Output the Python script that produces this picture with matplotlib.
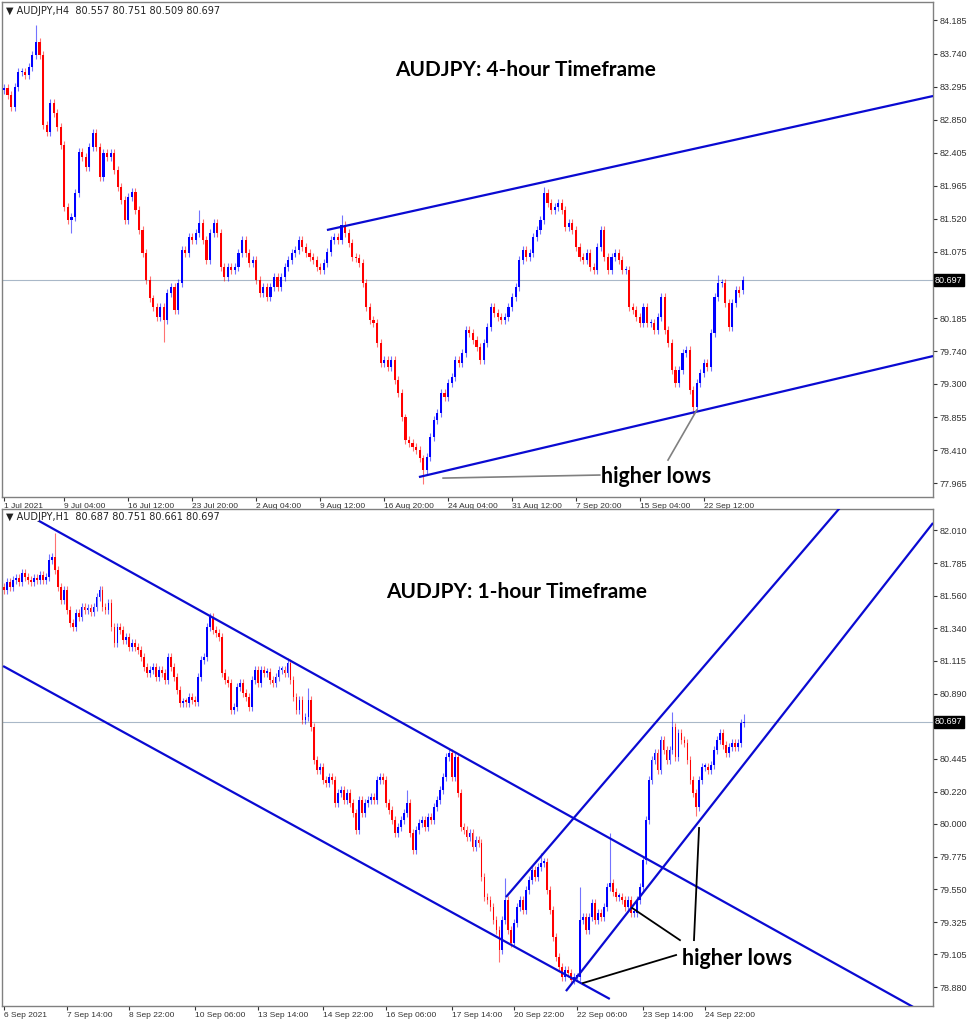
"""
AUDJPY 4H / 1H candlestick chart with trendlines (MT4 style)
"""
import matplotlib.pyplot as plt
import numpy as np

plt.rcParams['font.family'] = ['Liberation Sans', 'DejaVu Sans']

BULL = '#0000ff'
BEAR = '#ff0000'
LINE_BLUE = '#0a0ad2'
PRICE_LINE = '#a9b8c8'

# ---------------- H4 data (close of every bar) ----------------
h4_close = [
    83.277, 83.183, 83.022, 83.291, 83.492, 83.492, 83.452, 83.559, 83.721, 83.895,
    83.721, 82.780, 82.686, 83.076, 82.941, 82.753, 82.511, 81.678, 81.503, 81.543,
    81.866, 82.417, 82.350, 82.215, 82.484, 82.672, 82.484, 82.081, 82.404, 82.350,
    82.404, 82.175, 81.947, 81.772, 81.503, 81.812, 81.879, 81.637, 81.369, 81.059,
    80.697, 80.450, 80.334, 80.199, 80.334, 80.159, 80.522, 80.602, 80.293, 80.656,
    81.100, 81.059, 81.275, 81.234, 81.328, 81.463, 81.234, 80.965, 81.328, 81.463,
    81.328, 80.871, 80.737, 80.871, 80.831, 80.871, 81.059, 81.234, 81.059, 80.925,
    80.965, 80.697, 80.522, 80.602, 80.468, 80.602, 80.737, 80.602, 80.737, 80.871,
    80.965, 81.059, 81.100, 81.234, 81.140, 81.059, 81.006, 80.965, 80.871, 80.831,
    80.925, 81.073, 81.234, 81.275, 81.234, 81.436, 81.328, 81.194, 81.006, 80.992,
    80.925, 80.656, 80.334, 80.159, 80.119, 79.850, 79.581, 79.621, 79.527, 79.621,
    79.352, 79.178, 78.850, 78.546, 78.506, 78.452, 78.412, 78.300, 78.143, 78.318,
    78.586, 78.815, 78.909, 79.178, 79.124, 79.312, 79.393, 79.621, 79.581, 79.715,
    80.025, 79.984, 79.890, 79.796, 79.621, 79.850, 80.065, 80.334, 80.253, 80.199,
    80.159, 80.199, 80.334, 80.468, 80.602, 80.965, 81.100, 81.006, 81.059, 81.275,
    81.369, 81.503, 81.866, 81.732, 81.637, 81.678, 81.732, 81.637, 81.409, 81.463,
    81.369, 81.140, 81.006, 80.965, 81.059, 80.871, 80.831,
    81.140, 81.369, 81.006, 80.831, 81.006, 81.059, 80.965, 80.831, 80.831, 80.334,
    80.293, 80.199, 80.119, 80.334, 80.119, 80.119, 80.025, 80.199, 80.468, 80.025,
    79.850, 79.487, 79.312, 79.487, 79.715, 79.756, 79.218, 78.990, 79.312, 79.447,
    79.581, 79.527, 79.984, 80.468, 80.656, 80.656, 80.387, 80.065, 80.387, 80.562,
    80.522, 80.697,
]
h4_first_open = 83.25
h4_last_bar = (80.557, 80.751, 80.509, 80.697)   # O H L C from the header
h4_wick = 0.05                                   # typical wick length
h4_high_marks = {9: 84.12, 55: 81.64, 95: 81.57, 152: 81.95, 201: 80.76}
h4_low_marks = {19: 81.33, 45: 79.86, 118: 77.96, 194: 78.90}
h4_yticks = [77.965, 78.410, 78.855, 79.300, 79.740, 80.185, 80.630, 81.075,
             81.520, 81.965, 82.405, 82.850, 83.295, 83.740, 84.185]
h4_xtick_pos = [0, 17, 35, 53, 71, 89, 107, 125, 143, 161, 179, 197]
h4_xtick_labels = ['1 Jul 2021', '9 Jul 04:00', '16 Jul 12:00', '23 Jul 20:00',
                   '2 Aug 04:00', '9 Aug 12:00', '16 Aug 20:00', '24 Aug 04:00',
                   '31 Aug 12:00', '7 Sep 20:00', '15 Sep 04:00', '22 Sep 12:00']

# ---------------- H1 data ----------------
h1_close = [
    81.601, 81.656, 81.621, 81.669, 81.683, 81.656, 81.717, 81.690, 81.669, 81.656,
    81.683, 81.669, 81.704, 81.669, 81.690, 81.806, 81.827, 81.738, 81.621, 81.532,
    81.601, 81.464, 81.375, 81.347, 81.443, 81.416, 81.484, 81.464, 81.478, 81.450,
    81.484, 81.553, 81.601, 81.484, 81.464, 81.512, 81.347, 81.238, 81.347, 81.327,
    81.258, 81.279, 81.210, 81.238, 81.210, 81.190, 81.142, 81.074, 81.032, 81.053,
    81.074, 81.005, 81.053, 81.032, 80.984, 81.142, 81.074, 81.005, 80.916, 80.827,
    80.834, 80.827, 80.868, 80.847, 80.834, 81.005, 81.121, 81.142, 81.347, 81.416,
    81.327, 81.306, 81.279, 81.032, 80.984, 80.964, 80.779, 80.800, 80.937, 80.964,
    80.895, 80.868, 80.800,
    80.984, 81.053, 80.964, 81.053, 81.032, 81.039, 80.984, 80.964, 81.005, 81.053,
    81.053, 81.032, 81.101, 80.984, 80.868, 80.779, 80.847, 80.710, 80.731, 80.847,
    80.663, 80.437, 80.368, 80.389, 80.300, 80.279, 80.320, 80.300, 80.142, 80.210,
    80.231, 80.163, 80.210, 80.142, 80.074, 79.957, 80.163, 80.074, 80.142, 80.163,
    80.183, 80.163, 80.300, 80.320, 80.300, 80.142, 80.094, 80.026, 79.937, 79.978,
    80.026, 80.074, 80.142, 79.937, 79.820, 79.957, 80.005, 80.026, 79.978, 80.046,
    80.026, 80.115, 80.163, 80.231, 80.320, 80.457, 80.484, 80.320, 80.457, 80.210,
    79.978, 79.957, 79.909, 79.937, 79.841, 79.889, 79.868, 79.635,
    79.498, 79.478, 79.430, 79.341, 79.272, 79.135, 79.341, 79.478, 79.272, 79.183,
    79.320, 79.430, 79.478, 79.409, 79.546, 79.615, 79.683, 79.635, 79.704, 79.731,
    79.738, 79.546, 79.409, 79.224, 79.087, 79.019, 78.950, 78.998, 78.978, 78.930,
    78.950, 78.950, 79.341, 79.361, 79.272, 79.361, 79.457, 79.341, 79.389, 79.361,
    79.430, 79.567, 79.594, 79.532, 79.498, 79.498, 79.478, 79.430, 79.478, 79.389,
    79.389, 79.478, 79.567,
    79.752, 80.026, 80.300, 80.437, 80.484, 80.368, 80.574, 80.505, 80.437, 80.505,
    80.663, 80.457, 80.621, 80.574, 80.553, 80.437, 80.300, 80.210, 80.115, 80.300,
    80.389, 80.389, 80.368, 80.402, 80.505, 80.574, 80.621, 80.539, 80.484, 80.526,
    80.553, 80.526, 80.553, 80.690, 80.697,
]
h1_first_open = 81.62
h1_last_bar = (80.687, 80.751, 80.661, 80.697)
h1_wick = 0.03
h1_high_marks = {15: 81.85, 17: 81.99, 95: 81.135, 102: 80.93, 135: 80.23, 149: 80.51,
                 168: 79.63, 180: 79.80, 193: 79.57, 203: 79.94, 224: 80.765}
h1_low_marks = {166: 79.05, 190: 78.91, 232: 80.05}
h1_yticks = [78.880, 79.105, 79.325, 79.550, 79.775, 80.000, 80.220, 80.445,
             80.670, 80.890, 81.115, 81.340, 81.560, 81.785, 82.010]
h1_xtick_pos = [0, 21, 42, 64, 85, 107, 128, 150, 171, 192, 214, 235]
h1_xtick_labels = ['6 Sep 2021', '7 Sep 14:00', '8 Sep 22:00', '10 Sep 06:00',
                   '13 Sep 14:00', '14 Sep 22:00', '16 Sep 06:00', '17 Sep 14:00',
                   '20 Sep 22:00', '22 Sep 06:00', '23 Sep 14:00', '24 Sep 22:00']

last_price = 80.697

# trendlines (bar index, price)
h4_trend_lines = [((90.9, 81.369), (261.5, 83.170)),
                  ((116.8, 78.049), (261.5, 79.675))]
h4_leaders = [((123.6, 78.035), (167.7, 78.076)),
              ((195.0, 78.949), (186.9, 78.277))]
h1_trend_lines = [((11.7, 82.074), (311.0, 78.673)),
                  ((-0.3, 81.080), (203.0, 78.800)),
                  ((168.2, 79.498), (281.8, 82.204)),
                  ((188.3, 78.854), (311.3, 82.060))]
h1_leaders = [((194.0, 78.909), (225.2, 79.101)),
              ((210.5, 79.423), (226.5, 79.203)),
              ((232.9, 79.971), (231.2, 79.203))]


def draw_candles(ax, closes, first_open, last_bar, wick, high_marks, low_marks, width):
    c = np.array(closes, dtype=float)
    o = np.concatenate([[first_open], c[:-1]])
    o[-1] = last_bar[0]
    hi = np.maximum(o, c) + wick
    lo = np.minimum(o, c) - wick
    for i, v in high_marks.items():
        hi[i] = v
    for i, v in low_marks.items():
        lo[i] = v
    hi[-1], lo[-1] = last_bar[1], last_bar[2]
    x = np.arange(len(c))
    colors = np.where(c >= o, BULL, BEAR)
    body = c - o
    body = np.where(np.abs(body) < 0.012, 0.012, body)
    ax.vlines(x, lo, hi, colors=colors, linewidth=0.8, alpha=0.55, zorder=2)
    ax.bar(x, body, bottom=o, width=width, color=colors, linewidth=0, zorder=3)


def style_panel(ax, xlim, ylim, yticks, xpos, xlabels, header):
    ax.set_xlim(*xlim)
    ax.set_ylim(*ylim)
    for sp in ax.spines.values():
        sp.set_color('#808080')
        sp.set_linewidth(1)
    ax.yaxis.tick_right()
    ax.set_yticks(yticks)
    # the tick next to the current price sits under the price box
    ax.set_yticklabels(['' if abs(v - last_price) < 0.08 else f'{v:.3f}' for v in yticks])
    ax.tick_params(axis='y', labelsize=6.5, length=3, pad=2, colors='#333333')
    ax.set_xticks(xpos)
    ax.set_xticklabels(xlabels)
    ax.tick_params(axis='x', labelsize=6, length=3, pad=1.5, colors='#333333')
    for lab in ax.get_xticklabels():
        lab.set_ha('left')
    ax.axhline(last_price, color=PRICE_LINE, linewidth=0.8, zorder=1)
    ax.text(1.002, last_price, f'{last_price:.3f}', transform=ax.get_yaxis_transform(),
            color='white', fontsize=6.5, va='center', ha='left', zorder=10, clip_on=False,
            bbox=dict(boxstyle='square,pad=0.15', fc='black', ec='black'))
    ax.text(0.004, 0.993, header, transform=ax.transAxes, fontsize=7, va='top',
            ha='left', color='#222222', family=['DejaVu Sans'])


fig = plt.figure(figsize=(9.68, 10.24), dpi=100)
ax1 = fig.add_axes([0.00207, 0.5146, 0.9618, 0.4834])
ax2 = fig.add_axes([0.00207, 0.0176, 0.9618, 0.4854])

# --- 4-hour panel ---
draw_candles(ax1, h4_close, h4_first_open, h4_last_bar, h4_wick,
             h4_high_marks, h4_low_marks, 0.6)
style_panel(ax1, (-0.56, 261.5), (77.780, 84.433), h4_yticks, h4_xtick_pos,
            h4_xtick_labels, '▼ AUDJPY,H4  80.557 80.751 80.509 80.697')
for (x0, y0), (x1, y1) in h4_trend_lines:
    ax1.plot([x0, x1], [y0, y1], color=LINE_BLUE, linewidth=1.6, zorder=4,
             solid_capstyle='butt')
for (x0, y0), (x1, y1) in h4_leaders:
    ax1.plot([x0, x1], [y0, y1], color='#808080', linewidth=1.2, zorder=4)
ax1.text(168.0, 78.062, 'higher lows', fontsize=15.5, fontweight='bold',
         family=['Lato', 'DejaVu Sans'], va='center', ha='left', zorder=6)
ax1.text(0.5618, 0.8626, 'AUDJPY: 4-hour Timeframe', transform=ax1.transAxes,
         fontsize=15, fontweight='bold', family=['Lato', 'DejaVu Sans'],
         ha='center', va='center')

# --- 1-hour panel ---
draw_candles(ax2, h1_close, h1_first_open, h1_last_bar, h1_wick,
             h1_high_marks, h1_low_marks, 0.6)
style_panel(ax2, (-0.67, 311.3), (78.752, 82.156), h1_yticks, h1_xtick_pos,
            h1_xtick_labels, '▼ AUDJPY,H1  80.687 80.751 80.661 80.697')
for (x0, y0), (x1, y1) in h1_trend_lines:
    ax2.plot([x0, x1], [y0, y1], color=LINE_BLUE, linewidth=1.6, zorder=4,
             solid_capstyle='butt')
for (x0, y0), (x1, y1) in h1_leaders:
    ax2.plot([x0, x1], [y0, y1], color='black', linewidth=1.3, zorder=4)
ax2.text(227.2, 79.080, 'higher lows', fontsize=15.5, fontweight='bold',
         family=['Lato', 'DejaVu Sans'], va='center', ha='left', zorder=6)
ax2.text(0.553, 0.833, 'AUDJPY: 1-hour Timeframe', transform=ax2.transAxes,
         fontsize=15, fontweight='bold', family=['Lato', 'DejaVu Sans'],
         ha='center', va='center')

plt.savefig('out.png', dpi=100)
plt.close()
